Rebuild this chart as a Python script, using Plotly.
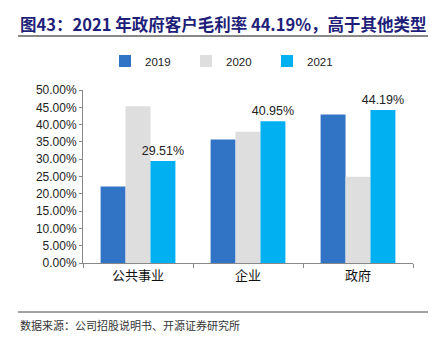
import plotly.graph_objects as go

categories = ["公共事业", "企业", "政府"]
years = ["2019", "2020", "2021"]
margin_2019 = [22.1, 35.7, 42.9]
margin_2020 = [45.3, 37.9, 24.9]
margin_2021 = [29.51, 40.95, 44.19]
colors = ["#3173C4", "#DEDEDE", "#00B0F0"]

W, H = 442, 338
L, R, T, B = 83, 29, 90, 75
PW, PH = W - L - R, H - T - B


def px_x(x):
    return (x - L) / PW


def px_y(y):
    return (H - B - y) / PH


fig = go.Figure()
for yr, vals, col in zip(years, [margin_2019, margin_2020, margin_2021], colors):
    kw = {}
    if yr == "2021":
        kw = dict(text=vals, texttemplate="%{y:.2f}%", textposition="outside",
                  textfont=dict(family="Liberation Sans, Arial", size=12.5, color="#222"),
                  constraintext="none", cliponaxis=False)
    fig.add_trace(go.Bar(name=yr, x=categories, y=vals,
                         marker=dict(color=col, line=dict(width=0)), **kw))

fig.update_layout(
    width=W, height=H,
    margin=dict(l=L, r=R, t=T, b=B),
    paper_bgcolor="white", plot_bgcolor="white",
    barmode="group", bargap=0.32, bargroupgap=0,
    font=dict(family="Liberation Sans, Arial", size=12, color="#222"),
    showlegend=True,
    legend=dict(orientation="h", x=px_x(105), xanchor="left", y=px_y(61), yanchor="middle",
                font=dict(size=11.5, color="#222"), itemwidth=30, traceorder="normal",
                entrywidth=36, entrywidthmode="pixels"),
    xaxis=dict(showline=True, linecolor="#888", linewidth=1, ticks="outside", ticklen=4,
               tickcolor="#888", tickson="boundaries",
               tickfont=dict(family="Noto Sans CJK SC", size=13, color="#111")),
    yaxis=dict(range=[0, 50], dtick=5, tickformat=".2f", ticksuffix="%",
               showline=True, linecolor="#888", linewidth=1, ticks="outside", ticklen=3,
               tickcolor="#888", showgrid=False, zeroline=False,
               tickfont=dict(size=12, color="#222")),
)

# Title, rules and source note
fig.add_annotation(text="<b>图43：2021 年政府客户毛利率 44.19%，高于其他类型</b>",
                   xref="paper", yref="paper", x=px_x(18), y=px_y(24),
                   xanchor="left", yanchor="middle", showarrow=False,
                   font=dict(family="Noto Sans CJK SC", size=16.5, color="#1F1F7A"))
fig.add_shape(type="line", xref="paper", yref="paper",
              x0=px_x(18), x1=px_x(428), y0=px_y(36), y1=px_y(36),
              line=dict(color="#888", width=2))
fig.add_shape(type="line", xref="paper", yref="paper",
              x0=px_x(18), x1=px_x(428), y0=px_y(312), y1=px_y(312),
              line=dict(color="#444", width=1))
fig.add_annotation(text="数据来源：公司招股说明书、开源证券研究所",
                   xref="paper", yref="paper", x=px_x(18), y=px_y(325),
                   xanchor="left", yanchor="middle", showarrow=False,
                   font=dict(family="Noto Sans CJK SC", size=11, color="#333"))

fig.write_html("out.html")
